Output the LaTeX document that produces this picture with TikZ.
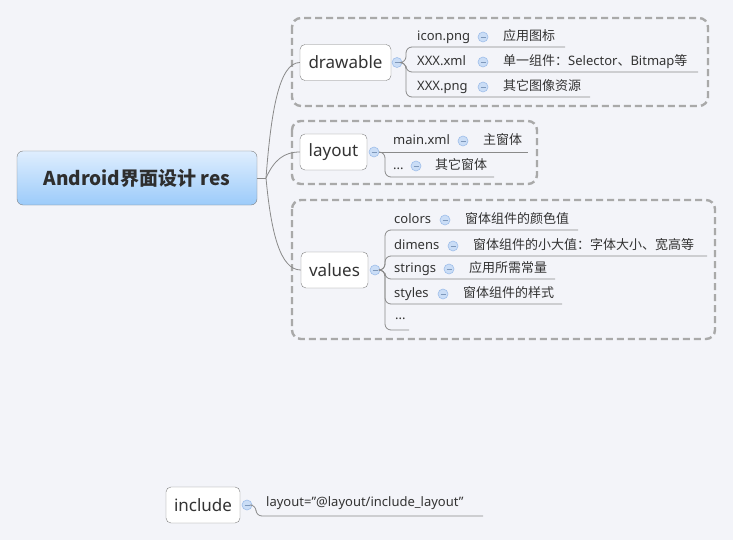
\documentclass[tikz,border=0pt]{standalone}
\usepackage{fontspec}
\setmainfont{Noto Sans}
\newfontfamily\cjk{Noto Sans CJK SC}
\usetikzlibrary{positioning}

\definecolor{bgcol}{HTML}{F3F4F9}
\definecolor{groupgray}{HTML}{A9A9A9}
\definecolor{nodegray}{HTML}{808080}
\definecolor{linegray}{HTML}{8A8A8A}
\definecolor{foldfill}{HTML}{CADDF6}
\definecolor{foldline}{HTML}{9EBEEA}
\definecolor{txt}{HTML}{333333}
\definecolor{rtop}{HTML}{DFEEFE}
\definecolor{rbot}{HTML}{9CCBFA}

\begin{document}
\begin{tikzpicture}[x=1pt,y=-1pt,
    root/.style={draw=nodegray, rounded corners=6pt, top color=rtop, bottom color=rbot,
        minimum width=240pt, minimum height=54pt, inner sep=0pt,
        font=\cjk\bfseries\fontsize{19}{22}\selectfont, text=txt!90!black},
    topic/.style={draw=nodegray, fill=white, rounded corners=5pt, minimum height=36pt,
        inner sep=0pt, font=\fontsize{17}{20}\selectfont, text=txt},
    fold/.style={circle, draw=foldline, fill=foldfill, minimum size=10pt, inner sep=0pt,
        line width=0.6pt,
        path picture={\draw[foldline!80!black, line width=0.7pt]
            ([xshift=-2.5pt]path picture bounding box.center) --
            ([xshift=2.5pt]path picture bounding box.center);}},
    item/.style={anchor=west, inner sep=0pt, text height=10pt, text depth=3pt,
        font=\fontsize{13}{15}\selectfont, text=txt},
    conn/.style={draw=linegray, line width=0.8pt},
    branch/.style={conn, rounded corners=6pt},
    group/.style={draw=groupgray, line width=2.4pt, dash pattern=on 7pt off 4pt,
        rounded corners=9pt}]

    % background
    \useasboundingbox (0,0) rectangle (733,540);
    \fill[bgcol] (0,0) rectangle (733,540);

    % boundaries
    \draw[group] (292,18) rectangle (708,106);
    \draw[group] (292,121) rectangle (537,184);
    \draw[group] (292,200) rectangle (715,339);

    % central topic
    \node[root] (root) at (137,178) {Android界面设计 res};
    \coordinate (hub) at (266,178);
    \draw[conn] (root.east) -- (hub);

    % main topics
    \node[topic, minimum width=91pt] (drawable) at (345.5,62.5) {drawable};
    \node[fold] (drawfold) at (397,62.5) {};
    \node[topic, minimum width=67pt] (layout) at (333.5,152) {layout};
    \node[fold] (layfold) at (374,152) {};
    \node[topic, minimum width=67pt] (values) at (334.5,270) {values};
    \node[fold] (valfold) at (375,270) {};

    \draw[conn] (hub) .. controls (271,112) and (279,62.5) .. (drawable.west);
    \draw[conn] (hub) .. controls (274,160) and (284,152) .. (layout.west);
    \draw[conn] (hub) .. controls (271,232) and (280,270) .. (values.west);

    % drawable
    \foreach \i/\y/\file/\cx/\desc/\ux in {
        1/37/icon.png/483/{\cjk 应用图标}/565,
        2/62/XXX.xml/483/{{\cjk 单一组件：}Selector{\cjk 、}Bitmap{\cjk 等}}/698,
        3/87/XXX.png/483/{\cjk 其它图像资源}/590} {
        \node[item] (dfile\i) at (417,\y) {\file};
        \node[fold] (dfold\i) at (\cx,\y) {};
        \node[item] (ddesc\i) at (\cx+20,\y) {\desc};
        \coordinate (dline\i) at (\ux,\y+10);
        \draw[branch] (drawfold.east) -- (406,62.5) |- (dline\i);
    }

    % layout
    \node[item] (lfile1) at (393,141) {main.xml};
    \node[fold] (lfold1) at (463,141) {};
    \node[item] (ldesc1) at (483,141) {\cjk 主窗体};
    \coordinate (lline1) at (528,152);
    \draw[conn] (layfold.east) -- (lline1);
    \node[item] (lfile2) at (393,166) {...};
    \node[fold] (lfold2) at (416,166) {};
    \node[item] (ldesc2) at (435,166) {\cjk 其它窗体};
    \coordinate (lline2) at (494,177);
    \draw[branch] (layfold.east) -- (385,152) |- (lline2);

    % values
    \foreach \i/\y/\file/\cx/\desc/\ux in {
        1/220/colors/445/窗体组件的颜色值/578,
        2/246/dimens/453/窗体组件的小大值：字体大小、宽高等/707,
        3/269/strings/449/应用所需常量/555,
        4/294/styles/443/窗体组件的样式/562} {
        \node[item] (vfile\i) at (394,\y) {\file};
        \node[fold] (vfold\i) at (\cx,\y) {};
        \node[item] (vdesc\i) at (\cx+20,\y) {\cjk\desc};
        \coordinate (vline\i) at (\ux,\y+10);
        \draw[branch] (valfold.east) -- (385,270) |- (vline\i);
    }
    \node[item] (vfile5) at (395,316) {...};
    \coordinate (vline5) at (409,330);
    \draw[branch] (valfold.east) -- (385,270) |- (vline5);

    % include (floating topic)
    \node[topic, minimum width=74pt] (include) at (203,505) {include};
    \node[fold] (incfold) at (247,505) {};
    \node[item] (incattr) at (266,503)
        {layout=\symbol{34}@layout/include\_layout\symbol{34}};
    \coordinate (incline) at (483,516);
    \draw[branch] (incfold.east) -- (256,505) |- (incline);
\end{tikzpicture}
\end{document}
